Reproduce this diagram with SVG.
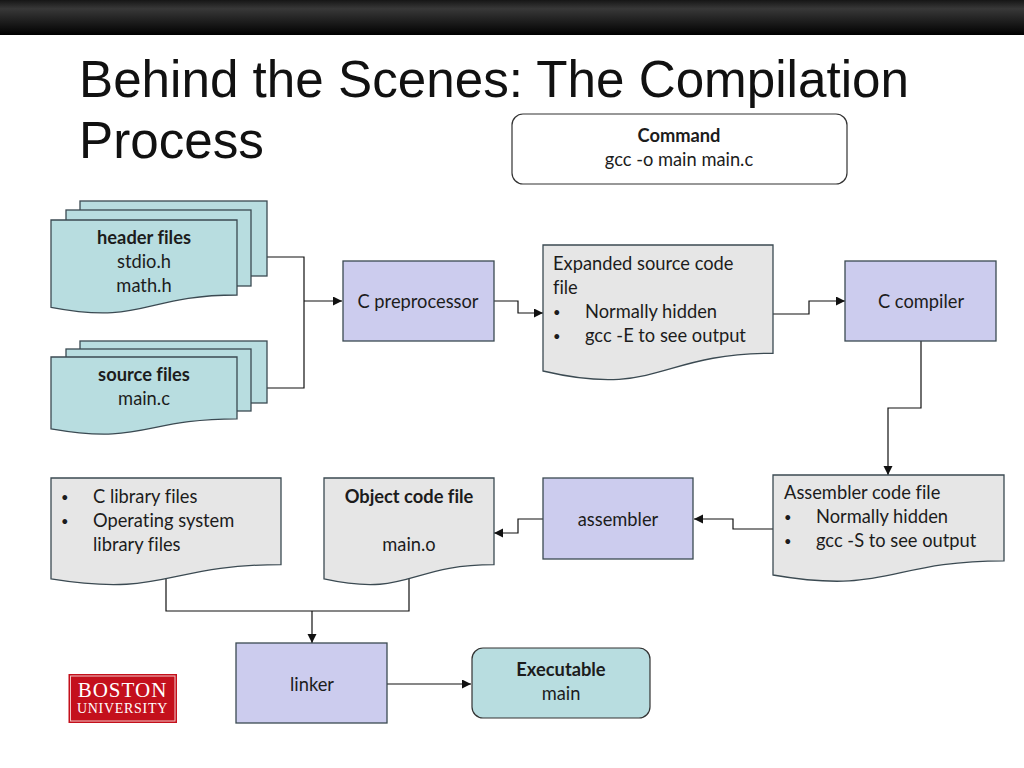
<svg xmlns="http://www.w3.org/2000/svg" width="1024" height="768" viewBox="0 0 1024 768">
<style>
text{font-family:"Lato","Open Sans",sans-serif;font-size:18.3px;fill:#1c1c1c;font-variant-ligatures:none;transform:translateY(0.8px)}
.c{text-anchor:middle}
.b{font-weight:700}
.bu{font-size:13px}
text.title{font-family:"Liberation Sans",Arial,sans-serif;font-size:51.2px;fill:#111;transform:none}
.teal{fill:#b8dde0;stroke:#3b4a52;stroke-width:1.3}
.grey{fill:#e6e6e6;stroke:#3b4a52;stroke-width:1.3}
.lav{fill:#ccccee;stroke:#3b4a52;stroke-width:1.3}
.conn{fill:none;stroke:#111;stroke-width:1.2}
</style>
<defs>
<linearGradient id="bar" x1="0" y1="0" x2="0" y2="1"><stop offset="0" stop-color="#161616"/><stop offset="0.25" stop-color="#383838"/><stop offset="0.85" stop-color="#0c0c0c"/><stop offset="1" stop-color="#000"/></linearGradient>
<marker id="arr" markerUnits="userSpaceOnUse" markerWidth="10" markerHeight="10" refX="9" refY="4.5" orient="auto"><path d="M0 0L9 4.5L0 9Z" fill="#111"/></marker>
</defs>
<rect width="1024" height="768" fill="#fff"/>
<rect width="1024" height="35" fill="url(#bar)"/>
<text class="title" x="79" y="97">Behind the Scenes: The Compilation</text>
<text class="title" x="79" y="158">Process</text>
<g id="connectors" class="conn">
<path d="M267 257H304V388H267"/>
<path d="M304 301H342" marker-end="url(#arr)"/>
<path d="M494 301H518V313H543" marker-end="url(#arr)"/>
<path d="M773 314H809V301H845" marker-end="url(#arr)"/>
<path d="M921 341V408H888V475" marker-end="url(#arr)"/>
<path d="M773 529H733V519H694" marker-end="url(#arr)"/>
<path d="M543 519H518V533H494" marker-end="url(#arr)"/>
<path d="M166 578V611H409V574"/>
<path d="M312 611V643" marker-end="url(#arr)"/>
<path d="M387 684H471" marker-end="url(#arr)"/>
</g>
<g id="command"><rect x="512" y="114" width="335" height="70" rx="11" fill="#fff" stroke="#333" stroke-width="1.2"/><text class="c b" x="679" y="141">Command</text><text class="c" x="679" y="165">gcc -o main main.c</text></g>
<g id="header-files">
<rect class="teal" x="80" y="201" width="187" height="75"/>
<rect class="teal" x="66" y="210" width="185" height="76"/>
<path class="teal" d="M51 220H237V295C144 295 144 325 51 307.3Z"/>
<text class="c b" x="144" y="243">header files</text><text class="c" x="144" y="267">stdio.h</text><text class="c" x="144" y="291">math.h</text></g>
<g id="source-files">
<rect class="teal" x="80" y="341" width="187" height="62"/>
<rect class="teal" x="66" y="349" width="185" height="62"/>
<path class="teal" d="M51 357H237V418.800C144 418.800 144 445 51 428.900Z"/>
<text class="c b" x="144" y="380">source files</text><text class="c" x="144" y="404">main.c</text></g>
<g id="c-preprocessor"><rect class="lav" x="343" y="261" width="151" height="80"/><text class="c" x="418" y="307">C preprocessor</text></g>
<g id="expanded-source"><path class="grey" d="M543 245H773V353.300C658 353.300 658 398 543 371Z"/>
<text x="553" y="269">Expanded source code</text><text x="553" y="293">file</text><text class="bu" x="553" y="316">•</text><text x="585" y="317">Normally hidden</text><text class="bu" x="553" y="340">•</text><text x="585" y="341">gcc -E to see output</text></g>
<g id="c-compiler"><rect class="lav" x="845" y="261" width="151" height="80"/><text class="c" x="921" y="307">C compiler</text></g>
<g id="assembler-code"><path class="grey" d="M773 475H1004V560.800C888.500 560.800 888.500 595 773 575Z"/>
<text x="784" y="498">Assembler code file</text><text class="bu" x="784" y="521">•</text><text x="816" y="522">Normally hidden</text><text class="bu" x="784" y="545">•</text><text x="816" y="546">gcc -S to see output</text></g>
<g id="assembler"><rect class="lav" x="543" y="478" width="150" height="81"/><text class="c" x="618" y="525">assembler</text></g>
<g id="object-code"><path class="grey" d="M324 478H494V564.600C409 564.600 409 597.600 324 578.900Z"/>
<text class="c b" x="409" y="502">Object code file</text><text class="c" x="409" y="550">main.o</text></g>
<g id="library-files"><path class="grey" d="M51 478H281V564.600C166 564.600 166 597.600 51 578.900Z"/>
<text class="bu" x="61" y="501">•</text><text x="93" y="502">C library files</text><text class="bu" x="61" y="525">•</text><text x="93" y="526">Operating system</text><text x="93" y="550">library files</text></g>
<g id="linker"><rect class="lav" x="236" y="643" width="151" height="80"/><text class="c" x="312" y="690">linker</text></g>
<g id="executable"><rect x="472" y="648" width="178" height="70" rx="11" fill="#b8dde0" stroke="#333" stroke-width="1.2"/><text class="c b" x="561" y="675">Executable</text><text class="c" x="561" y="699">main</text></g>
<g id="logo"><rect x="68.500" y="674" width="108.500" height="49" fill="#c4101c"/><rect x="70.500" y="676" width="104.500" height="45" fill="none" stroke="#f2c6c6" stroke-width="1"/>
<text x="122.500" y="697" text-anchor="middle" style="font-family:'Liberation Serif',serif;font-size:21px;fill:#fff;letter-spacing:1px;transform:none">BOSTON</text><text x="122.500" y="713" text-anchor="middle" style="font-family:'Liberation Serif',serif;font-size:14px;fill:#fff;letter-spacing:0.7px;transform:none">UNIVERSITY</text></g>
</svg>
